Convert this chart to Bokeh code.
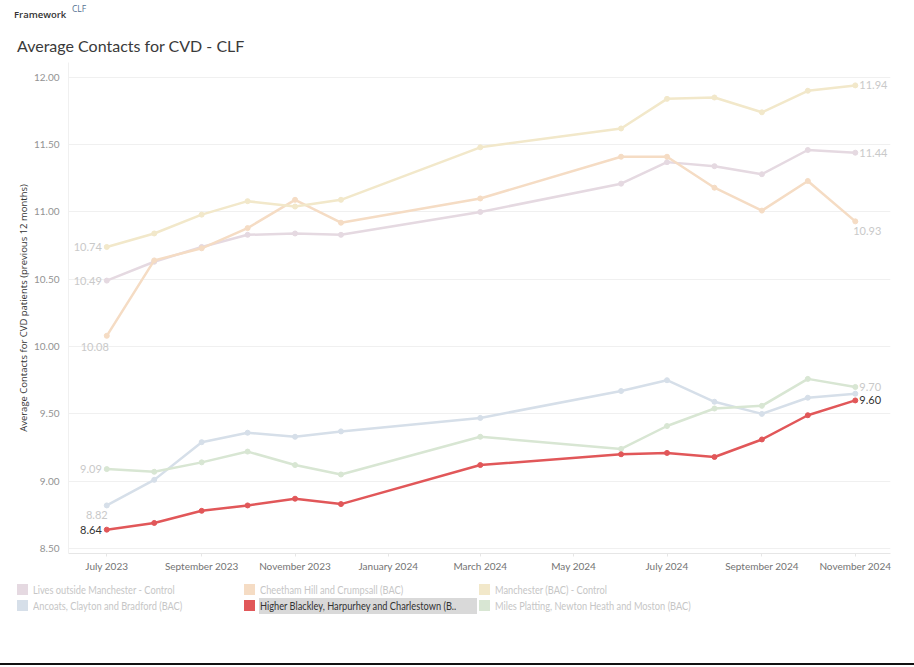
import pandas as pd
from bokeh.plotting import figure
from bokeh.models import Div, ColumnDataSource, FixedTicker, DatetimeTickFormatter, NumeralTickFormatter, Range1d
from bokeh.layouts import column
from bokeh.core.properties import value
from bokeh.embed import file_html
from bokeh.resources import INLINE

# ---------------- data ----------------
months = ["2023-07-01", "2023-08-01", "2023-09-01", "2023-10-01", "2023-11-01", "2023-12-01",
          "2024-03-01", "2024-06-01", "2024-07-01", "2024-08-01", "2024-09-01", "2024-10-01", "2024-11-01"]

lives_outside = [10.49, 10.63, 10.74, 10.83, 10.84, 10.83, 11.00, 11.21, 11.37, 11.34, 11.28, 11.46, 11.44]
cheetham = [10.08, 10.64, 10.73, 10.88, 11.09, 10.92, 11.10, 11.41, 11.41, 11.18, 11.01, 11.23, 10.93]
manchester = [10.74, 10.84, 10.98, 11.08, 11.04, 11.09, 11.48, 11.62, 11.84, 11.85, 11.74, 11.90, 11.94]
ancoats = [8.82, 9.01, 9.29, 9.36, 9.33, 9.37, 9.47, 9.67, 9.75, 9.59, 9.50, 9.62, 9.65]
higher_blackley = [8.64, 8.69, 8.78, 8.82, 8.87, 8.83, 9.12, 9.20, 9.21, 9.18, 9.31, 9.49, 9.60]
miles_platting = [9.09, 9.07, 9.14, 9.22, 9.12, 9.05, 9.33, 9.24, 9.41, 9.54, 9.56, 9.76, 9.70]

series_names = ["Lives outside Manchester - Control", "Cheetham Hill and Crumpsall (BAC)",
                "Manchester (BAC) - Control", "Ancoats, Clayton and Bradford (BAC)",
                "Higher Blackley, Harpurhey and Charlestown (BAC)",
                "Miles Platting, Newton Heath and Moston (BAC)"]
series_values = [lives_outside, cheetham, manchester, ancoats, higher_blackley, miles_platting]
series_colors = ["#e5d9e1", "#f5dcc4", "#f2e8ca", "#d6dfe9", "#e15759", "#d8e6d3"]
highlighted = "Higher Blackley, Harpurhey and Charlestown (BAC)"

tick_dates = ["2023-07-01", "2023-09-01", "2023-11-01", "2024-01-01", "2024-03-01",
              "2024-05-01", "2024-07-01", "2024-09-01", "2024-11-01"]
y_ticks = [8.5, 9.0, 9.5, 10.0, 10.5, 11.0, 11.5, 12.0]

x_dates = pd.to_datetime(months)

# ---------------- header ----------------
header = Div(text=(
    "<div style=\"position:relative;width:914px;height:60px;\">"
    "<span style=\"position:absolute;left:14px;top:8px;font-family:'Open Sans';font-size:9.5px;font-weight:600;color:#333;\">Framework</span>"
    "<span style=\"position:absolute;left:72px;top:3px;font-family:'Open Sans';font-size:8.5px;color:#52708f;\">CLF</span>"
    "<span style=\"position:absolute;left:17px;top:35px;font-family:'Lato';font-size:16px;color:#3a3a3a;\">Average Contacts for CVD - CLF</span>"
    "</div>"), width=914, height=60, margin=0)

# ---------------- figure ----------------
p = figure(width=914, height=520, x_axis_type="datetime", output_backend="svg",
           toolbar_location=None, min_border_left=68, min_border_right=24,
           min_border_top=2, min_border_bottom=27, margin=0)
p.x_range = Range1d(pd.Timestamp("2023-06-06"), pd.Timestamp("2024-11-24"))
p.y_range = Range1d(8.463, 12.11)
p.outline_line_color = None
p.background_fill_color = "white"
p.border_fill_color = "white"

p.xgrid.grid_line_color = None
p.ygrid.grid_line_color = "#f0f0f0"
p.ygrid.grid_line_width = 1

tick_ms = [int((pd.Timestamp(d) - pd.Timestamp("1970-01-01")) / pd.Timedelta(milliseconds=1)) for d in tick_dates]
p.xaxis.ticker = FixedTicker(ticks=tick_ms)
fmt = "%B %Y"
p.xaxis.formatter = DatetimeTickFormatter(days=fmt, months=fmt, years=fmt)
p.xaxis.axis_line_color = "#e6e6e6"
p.xaxis.major_tick_line_color = "#e6e6e6"
p.xaxis.major_tick_out = 3
p.xaxis.major_tick_in = 0
p.xaxis.minor_tick_line_color = None
p.xaxis.major_label_text_font = "Lato"
p.xaxis.major_label_text_font_size = "10px"
p.xaxis.major_label_text_color = "#737373"
p.xaxis.major_label_standoff = 3

p.yaxis.ticker = FixedTicker(ticks=y_ticks)
p.yaxis.formatter = NumeralTickFormatter(format="0.00")
p.yaxis.axis_line_color = "#f0f0f0"
p.yaxis.major_tick_line_color = None
p.yaxis.minor_tick_line_color = None
p.yaxis.major_label_text_font = "Lato"
p.yaxis.major_label_text_font_size = "10px"
p.yaxis.major_label_text_color = "#939393"
p.yaxis.major_label_standoff = 3
p.yaxis.axis_label = "Average Contacts for CVD patients (previous 12 months)"
p.yaxis.axis_label_text_font = "Open Sans"
p.yaxis.axis_label_text_font_size = "9.5px"
p.yaxis.axis_label_text_font_style = "normal"
p.yaxis.axis_label_text_color = "#333333"
p.yaxis.axis_label_standoff = 1

# lines: faded first, highlighted last
order = [0, 1, 2, 3, 5, 4]
for i in order:
    src = ColumnDataSource(dict(x=x_dates, y=series_values[i]))
    p.line("x", "y", source=src, line_color=series_colors[i], line_width=2.5)
    p.scatter("x", "y", source=src, size=5, fill_color=series_colors[i], line_color=series_colors[i])

# start / end labels
faded_txt = "#c9c9c9"
dark_txt = "#333333"
start_off = [(-5, 0, "right"), (-12, 11, "center"), (-5, 0, "right"), (-10, 10, "center"), (-5, 0, "right"), (-5, 0, "right")]
end_off = [(4, 0, "left"), (12, 10, "center"), (4, 0, "left"), None, (4, 0, "left"), (4, 0, "left")]
lx, ly, lt, lxo, lyo, la, lc = [], [], [], [], [], [], []
for i, vals in enumerate(series_values):
    col = dark_txt if series_names[i] == highlighted else faded_txt
    for idx, off in ((0, start_off[i]), (-1, end_off[i])):
        if off is None:
            continue
        lx.append(x_dates[idx]); ly.append(vals[idx]); lt.append(f"{vals[idx]:.2f}")
        lxo.append(off[0]); lyo.append(off[1]); la.append(off[2]); lc.append(col)
lab_src = ColumnDataSource(dict(x=lx, y=ly, t=lt, xo=lxo, yo=lyo, a=la, c=lc))
p.text("x", "y", text="t", source=lab_src, x_offset="xo", y_offset="yo", text_align="a",
       text_baseline="middle", text_color="c", text_font=value("Lato"), text_font_size="11px")

# ---------------- legend ----------------
leg_pos = [(17, 584), (244, 584), (479, 584), (17, 600), (244, 600), (479, 600)]
items = []
for i, name in enumerate(series_names):
    sx, sy = leg_pos[i]
    sy -= 580
    items.append(f"<div style=\"position:absolute;left:{sx}px;top:{sy}px;width:11px;height:11px;background:{series_colors[i]};\"></div>")
    if name == highlighted:
        items.append(f"<div style=\"position:absolute;left:{sx+15}px;top:{sy-2}px;width:218px;height:16px;background:#d9d9d9;\"></div>")
        label = "Higher Blackley, Harpurhey and Charlestown (B.."
        tc = "#333333"
    else:
        label = name
        tc = "#c6c6c6"
    items.append(f"<span style=\"position:absolute;left:{sx+16}px;top:{sy-2}px;line-height:16px;font-family:'Lato';font-size:11px;color:{tc};white-space:nowrap;transform:scaleX(0.84);transform-origin:0 50%;\">{label}</span>")
items.append("<div style=\"position:absolute;left:0px;top:83px;width:914px;height:2px;background:#111;\"></div>")
legend = Div(text="<div style=\"position:relative;width:914px;height:87px;\">" + "".join(items) + "</div>",
             width=914, height=87, margin=0)

layout = column(header, p, legend, spacing=0)
open("out.html", "w").write(file_html(layout, INLINE))
